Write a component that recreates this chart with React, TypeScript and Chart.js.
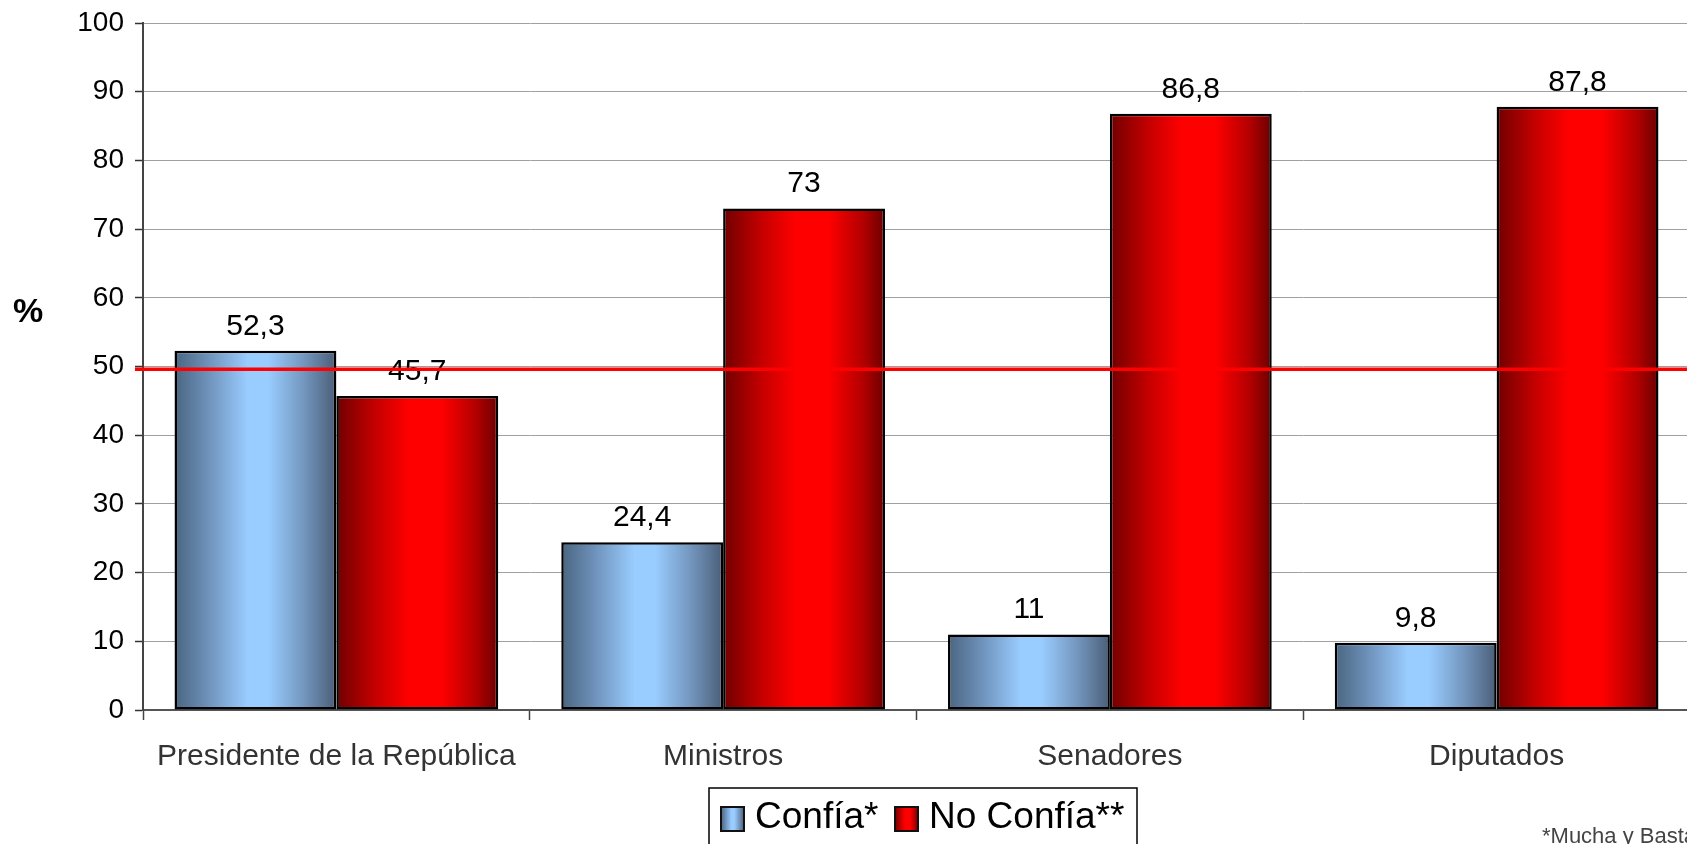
import React, { useEffect, useRef } from "react";
import { Chart, registerables } from "chart.js";

Chart.register(...registerables);

const categories = ["Presidente de la República", "Ministros", "Senadores", "Diputados"];
const confiaValues = [52.3, 24.4, 11, 9.8];
const noConfiaValues = [45.7, 73, 86.8, 87.8];
const seriesLabels = ["Confía*", "No Confía**"];
const referenceValue = 49.6;
const yAxisTitle = "%";
const footnote = "*Mucha y Basta";

const FONT = "'Liberation Sans', Arial, sans-serif";
const CAT_PCT = 0.837;

const blueStops: [number, string][] = [
  [0, "#4a6580"],
  [0.2, "#6d90b8"],
  [0.45, "#99ccff"],
  [0.58, "#99ccff"],
  [0.8, "#7396be"],
  [1, "#4a5e77"],
];
const redStops: [number, string][] = [
  [0, "#700000"],
  [0.25, "#c80000"],
  [0.45, "#ff0000"],
  [0.65, "#ff0000"],
  [0.87, "#b00000"],
  [1, "#6a0000"],
];

function barGradient(ctx: any, stops: [number, string][]) {
  const chart = ctx.chart;
  const xs = chart.scales && chart.scales.x;
  if (!chart.chartArea || !xs || ctx.type !== "data") return stops[2][1];
  const center = xs.getPixelForValue(ctx.dataIndex);
  const catW = xs.width / categories.length;
  const group = catW * CAT_PCT;
  const barW = group / 2;
  const left = center - group / 2 + ctx.datasetIndex * barW;
  const g = chart.ctx.createLinearGradient(left, 0, left + barW, 0);
  stops.forEach(([o, c]) => g.addColorStop(o, c));
  return g;
}

const extrasPlugin = {
  id: "extras",
  afterDatasetsDraw(chart: any) {
    const { ctx, scales, chartArea } = chart;
    ctx.save();
    ctx.font = `30px ${FONT}`;
    ctx.fillStyle = "#000";
    ctx.textAlign = "center";
    ctx.textBaseline = "alphabetic";
    chart.data.datasets.forEach((ds: any, di: number) => {
      const meta = chart.getDatasetMeta(di);
      meta.data.forEach((el: any, i: number) => {
        const v = ds.data[i];
        ctx.fillText(String(v).replace(".", ","), el.x, el.y - 16);
      });
    });
    const y = scales.y.getPixelForValue(referenceValue);
    ctx.strokeStyle = "#ff0000";
    ctx.lineWidth = 3.5;
    ctx.beginPath();
    ctx.moveTo(chartArea.left - 8, y);
    ctx.lineTo(chart.width, y);
    ctx.stroke();
    ctx.restore();
  },
  afterDraw(chart: any) {
    const { ctx } = chart;
    ctx.save();
    ctx.font = `bold 34px ${FONT}`;
    ctx.fillStyle = "#000";
    ctx.textAlign = "center";
    ctx.textBaseline = "middle";
    ctx.fillText(yAxisTitle, 28, 313);

    const lx = 709, ly = 788, lw = 428, lh = 80;
    ctx.fillStyle = "#fff";
    ctx.fillRect(lx, ly, lw, lh);
    ctx.strokeStyle = "#000";
    ctx.lineWidth = 1.5;
    ctx.strokeRect(lx, ly, lw, lh);
    const items = [
      { x: 721, stops: blueStops, tx: 755, text: seriesLabels[0] },
      { x: 895, stops: redStops, tx: 929, text: seriesLabels[1] },
    ];
    items.forEach((it) => {
      const g = ctx.createLinearGradient(it.x, 0, it.x + 23, 0);
      it.stops.forEach(([o, c]) => g.addColorStop(o, c));
      ctx.fillStyle = g;
      ctx.fillRect(it.x, 807, 23, 24);
      ctx.strokeStyle = "#111";
      ctx.lineWidth = 2;
      ctx.strokeRect(it.x, 807, 23, 24);
      ctx.fillStyle = "#000";
      ctx.font = `37px ${FONT}`;
      ctx.textAlign = "left";
      ctx.textBaseline = "alphabetic";
      ctx.fillText(it.text, it.tx, 828);
    });

    ctx.font = `22px ${FONT}`;
    ctx.fillStyle = "#444";
    ctx.textAlign = "left";
    ctx.textBaseline = "alphabetic";
    ctx.fillText(footnote, 1542, 843);
    ctx.restore();
  },
};

export default function App() {
  const ref = useRef<HTMLCanvasElement | null>(null);
  useEffect(() => {
    if (!ref.current) return;
    const chart = new Chart(ref.current, {
      type: "bar",
      data: {
        labels: categories,
        datasets: [
          {
            label: seriesLabels[0],
            data: confiaValues,
            backgroundColor: (c: any) => barGradient(c, blueStops),
            borderColor: "#000",
            borderWidth: 2.5,
            borderSkipped: false,
          },
          {
            label: seriesLabels[1],
            data: noConfiaValues,
            backgroundColor: (c: any) => barGradient(c, redStops),
            borderColor: "#000",
            borderWidth: 2.5,
            borderSkipped: false,
          },
        ],
      },
      options: {
        animation: false,
        responsive: false,
        devicePixelRatio: 1,
        layout: { padding: { top: 23, left: 0, right: 0, bottom: 0 } },
        datasets: { bar: { categoryPercentage: CAT_PCT, barPercentage: 1 } },
        plugins: { legend: { display: false }, tooltip: { enabled: false }, title: { display: false } },
        scales: {
          x: {
            grid: { display: true, drawOnChartArea: false, offset: true, tickLength: 10, tickColor: "#444", tickWidth: 1.5 },
            border: { display: true, color: "#555", width: 2 },
            ticks: { color: "#333", font: { family: FONT, size: 30 }, padding: 19, maxRotation: 0, autoSkip: false },
            afterFit: (s: any) => { s.height = 134; s.paddingLeft = 0; s.paddingRight = 0; },
          },
          y: {
            min: 0,
            max: 100,
            grid: { color: "#a0a0a0", lineWidth: 1, tickLength: 8, tickColor: "#333", tickWidth: 1.5 },
            border: { display: true, color: "#444", width: 2 },
            ticks: { stepSize: 10, color: "#000", font: { family: FONT, size: 28 }, padding: 11 },
            afterFit: (s: any) => { s.width = 143; s.paddingTop = 0; s.paddingBottom = 0; },
          },
        },
      },
      plugins: [extrasPlugin],
    } as any);
    return () => chart.destroy();
  }, []);
  return (
    <div style={{ position: "fixed", left: 0, top: 0, width: 1687, height: 844, overflow: "hidden", background: "#fff" }}>
      <canvas ref={ref} width={1690} height={844} style={{ display: "block", width: 1690, height: 844 }} />
    </div>
  );
}
